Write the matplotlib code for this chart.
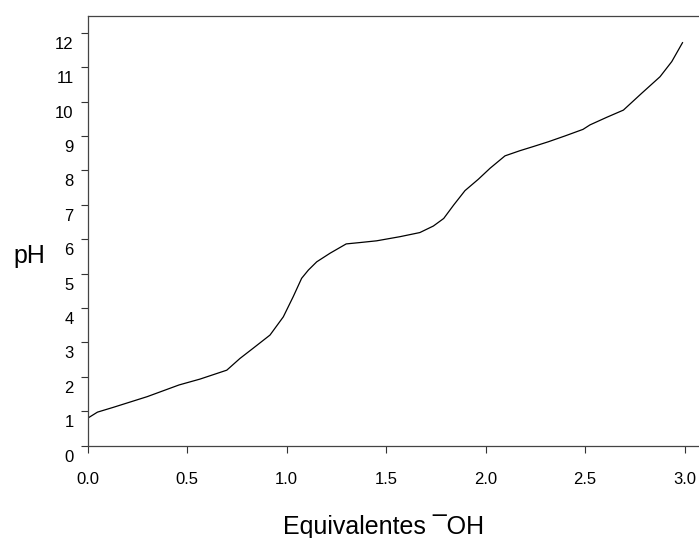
import matplotlib
matplotlib.use("Agg")
import matplotlib.pyplot as plt
import matplotlib.transforms as mtransforms

plt.rcParams["font.family"] = ["Liberation Sans", "DejaVu Sans"]

# Titration curve
equiv = [0.0, 0.05, 0.13, 0.30, 0.46, 0.565, 0.70, 0.766, 0.833, 0.917,
         0.984, 1.034, 1.076, 1.11, 1.152, 1.219, 1.30, 1.37, 1.453, 1.57,
         1.67, 1.738, 1.79, 1.84, 1.897, 1.964, 2.023, 2.098, 2.173, 2.24,
         2.316, 2.40, 2.49, 2.525, 2.609, 2.693, 2.785, 2.877, 2.936, 2.99]
ph = [0.79, 0.97, 1.11, 1.42, 1.76, 1.93, 2.19, 2.53, 2.83, 3.21,
      3.74, 4.33, 4.86, 5.10, 5.34, 5.59, 5.86, 5.90, 5.95, 6.07,
      6.19, 6.38, 6.60, 6.99, 7.41, 7.74, 8.06, 8.42, 8.57, 8.69,
      8.83, 9.00, 9.19, 9.32, 9.54, 9.75, 10.24, 10.72, 11.16, 11.71]

x_ticks = [0.0, 0.5, 1.0, 1.5, 2.0, 2.5, 3.0]
x_tick_labels = ["0.0", "0.5", "1.0", "1.5", "2.0", "2.5", "3.0"]
y_ticks = list(range(0, 13))

W, H = 699, 538
fig = plt.figure(figsize=(W / 100, H / 100), dpi=100)

# axes: x=0 at px 87.5, 199 px per unit; y=0 at px 445.5, 34.4 px per unit
x_max, y_max = 3.1, 12.5
left = 87.5 / W
bottom = (H - 445.5) / H
width = 199 * x_max / W
height = 34.4 * y_max / H
ax = fig.add_axes([left, bottom, width, height])

ax.plot(equiv, ph, color="black", linewidth=0.9)

ax.set_xlim(0, x_max)
ax.set_ylim(0, y_max)
ax.set_xticks(x_ticks)
ax.set_xticklabels(x_tick_labels)
ax.set_yticks(y_ticks)
ax.tick_params(axis="both", direction="out", length=5, width=0.8,
               color="#333333", labelsize=12)
ax.tick_params(axis="x", pad=14)
ax.tick_params(axis="y", pad=5)

for s in ["left", "top", "bottom"]:
    ax.spines[s].set_color("#444444")
    ax.spines[s].set_linewidth(0.9)
ax.spines["right"].set_visible(False)

# SigmaPlot-style: y tick labels sit a little below their ticks
shift = mtransforms.ScaledTranslation(0, -10 / 100, fig.dpi_scale_trans)
for lbl in ax.get_yticklabels():
    lbl.set_transform(lbl.get_transform() + shift)

fig.text(29 / W, 1 - 256 / H, "pH", fontsize=18, ha="center", va="center")
fig.text(384 / W, 1 - 534 / H, "Equivalentes \u00afOH", fontsize=18,
         ha="center", va="baseline")

fig.savefig("out.png", dpi=100)
